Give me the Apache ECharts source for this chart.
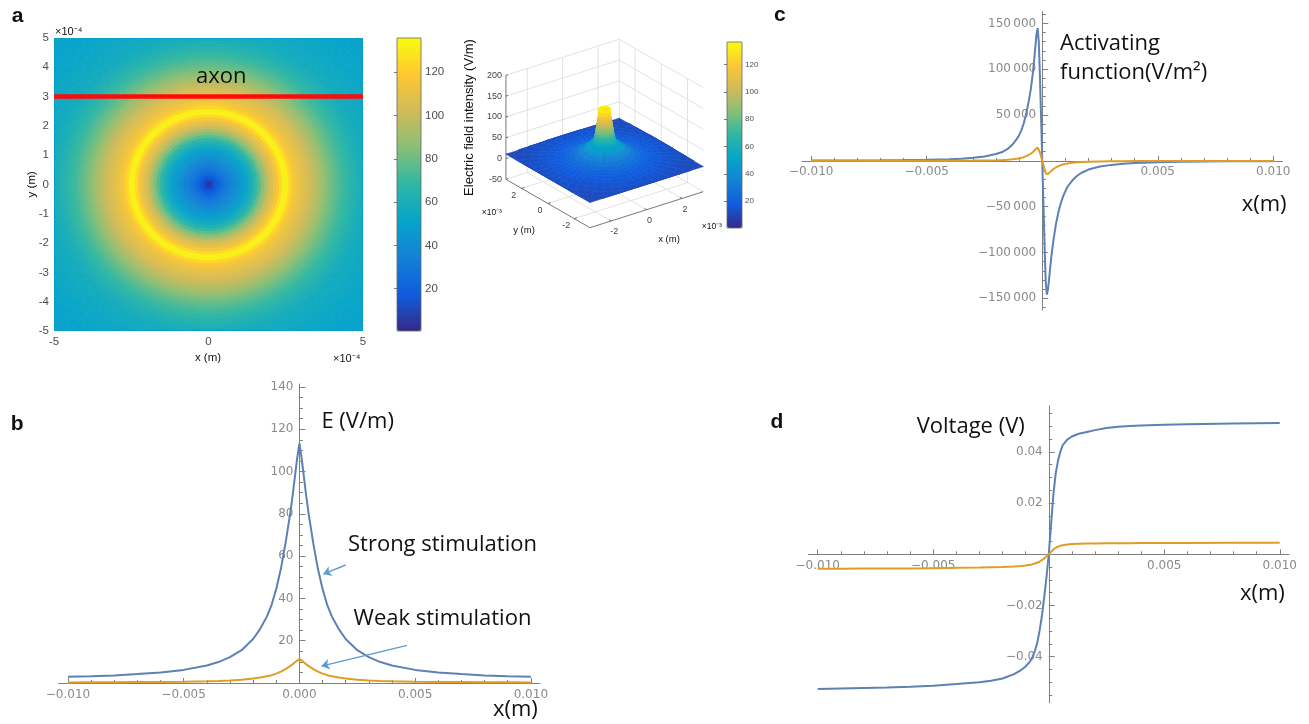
<!DOCTYPE html>
<html>
<head>
<meta charset="utf-8">
<script src="https://cdn.jsdelivr.net/npm/echarts@6/dist/echarts.min.js"></script>
<style>
html, body { margin: 0; padding: 0; background: #fff; }
#main { width: 1309px; height: 724px; }
</style>
</head>
<body>
<div id="main"></div>
<script>
/* ---------------- colour map (parula-like) ---------------- */
const parula = ['#352a87', '#0f5cdd', '#1481d6', '#06a4ca', '#2eb7a4', '#87bf77', '#d1bb59', '#fec832', '#f9fb0e'];

/* ---------------- panel a : radial field profile ---------------- */
// radius in 1e-4 m, field in V/m
const mapRadius = [0, 0.1, 0.2, 0.3, 0.4, 0.5, 0.6, 0.7, 0.8, 0.9, 1, 1.1, 1.2, 1.3, 1.4, 1.5, 1.6, 1.7, 1.8, 1.9,
  2, 2.1, 2.2, 2.3, 2.4, 2.5, 2.6, 2.7, 2.8, 2.9, 3, 3.1, 3.2, 3.3, 3.4, 3.5, 3.6, 3.7, 3.8, 3.9,
  4, 4.1, 4.2, 4.3, 4.4, 4.5, 4.6, 4.7, 4.8, 4.9, 5, 5.1, 5.2, 5.3, 5.4, 5.5, 5.6, 5.7, 5.8, 5.9,
  6, 6.1, 6.2, 6.3, 6.4, 6.5, 6.6, 6.7, 6.8, 6.9, 7, 7.1, 7.2];
const mapField = [3, 9, 15, 20, 24, 28, 31, 34, 37, 40, 44, 47, 50, 54, 59, 65, 72, 80, 88, 96,
  103, 108, 113, 120, 130, 135, 128, 120, 115, 112, 110, 107, 105, 102, 99, 96, 93, 90, 86, 83,
  80, 77, 75, 72, 70, 68, 66, 64, 62, 60, 58.5, 57.5, 56.5, 56, 55.5, 55, 54.5, 54, 53.5, 53,
  52.7, 52.4, 52.1, 51.8, 51.5, 51.2, 51, 50.7, 50.5, 50.3, 50, 49.8, 49.6];
// far field, only seen in the 3D surface
const farRadius = [8, 9, 10, 12, 14, 16, 18, 20, 23, 26, 30, 34, 38, 42, 45.3];
const farField = [46, 42, 38, 32, 27, 23.5, 21, 19, 17, 15.5, 14, 12.5, 11.5, 11, 10.5];

const axonX = [-5, 5];
const axonY = [3, 3];
const mapHalf = 5;             // map spans -5..5 (x1e-4 m)
const mapAngles = 120;
const surfHalf = 32;           // 3D surface spans -32..32 (x1e-4 m)
const surfAngles = 48;
const cbTicks = [20, 40, 60, 80, 100, 120];
const tick3dXY = [-2, 0, 2];   // x1e-3 m
const tick3dZ = [-50, 0, 50, 100, 150, 200];

/* ---------------- panel b : E along the axon ---------------- */
const bX = [-0.010, -0.009, -0.008, -0.007, -0.006, -0.005, -0.004, -0.0035, -0.003, -0.0025, -0.002, -0.0017, -0.0014, -0.0012, -0.001, -0.0008, -0.0006, -0.0004, -0.0003, -0.0002, -0.0001,
  0, 0.0001, 0.0002, 0.0003, 0.0004, 0.0006, 0.0008, 0.001, 0.0012, 0.0014, 0.0017, 0.002, 0.0025, 0.003, 0.0035, 0.004, 0.005, 0.006, 0.007, 0.008, 0.009, 0.010];
const bStrong = [2.9, 3.2, 3.6, 4.2, 5.0, 6.2, 8.3, 9.9, 12.2, 15.5, 20.8, 25.5, 31.5, 37, 44.5, 54, 66, 80, 88, 97, 106,
  113.3, 106, 97, 88, 80, 66, 54, 44.5, 37, 31.5, 25.5, 20.8, 15.5, 12.2, 9.9, 8.3, 6.2, 5.0, 4.2, 3.6, 3.2, 2.9];
const bWeak = [0.29, 0.32, 0.36, 0.42, 0.5, 0.62, 0.83, 0.99, 1.22, 1.55, 2.08, 2.55, 3.15, 3.7, 4.45, 5.4, 6.6, 8.0, 8.8, 9.7, 10.6,
  11.3, 10.6, 9.7, 8.8, 8.0, 6.6, 5.4, 4.45, 3.7, 3.15, 2.55, 2.08, 1.55, 1.22, 0.99, 0.83, 0.62, 0.5, 0.42, 0.36, 0.32, 0.29];
const arrowStrong = [[0.0020, 55.8], [0.00103, 51.5]];
const arrowWeak = [[0.00465, 17.8], [0.00095, 8.0]];

/* ---------------- panel c : activating function ---------------- */
const cX = [-0.010, -0.009, -0.008, -0.007, -0.006, -0.005, -0.004, -0.0035, -0.003, -0.0025, -0.002, -0.0017, -0.0015, -0.0013, -0.0011, -0.001, -0.0009, -0.0008, -0.0007, -0.0006, -0.0005, -0.0004, -0.00035, -0.0003, -0.00025, -0.0002, -0.00015, -0.0001, -0.00005,
  0, 0.00005, 0.0001, 0.00015, 0.0002, 0.00025, 0.0003, 0.00035, 0.0004, 0.0005, 0.0006, 0.0007, 0.0008, 0.0009, 0.001, 0.0011, 0.0013, 0.0015, 0.0017, 0.002, 0.0025, 0.003, 0.0035, 0.004, 0.005, 0.006, 0.007, 0.008, 0.009, 0.010];
const cStrong = [300, 380, 450, 560, 800, 1150, 1800, 2400, 3300, 4800, 7400, 10000, 13000, 17500, 24000, 28000, 33500, 41000, 51000, 63000, 77500, 97000, 110000, 124000, 138000, 145000, 130000, 92000, 47000,
  0, -47000, -92000, -132000, -146000, -140000, -128000, -115000, -103000, -84000, -68000, -56000, -46500, -39000, -33000, -28000, -21500, -16500, -13000, -9500, -6200, -4400, -3200, -2400, -1500, -1000, -700, -520, -420, -340];
const cWeak = [30, 38, 45, 56, 80, 115, 180, 240, 330, 480, 740, 1000, 1300, 1750, 2400, 2800, 3350, 4100, 5100, 6300, 7750, 9700, 11000, 12400, 13800, 14500, 13000, 9200, 4700,
  0, -4700, -9200, -13500, -15200, -14500, -13200, -11800, -10500, -8600, -7000, -5700, -4700, -3900, -3300, -2800, -2150, -1650, -1300, -950, -620, -440, -320, -240, -150, -100, -70, -52, -42, -34];

/* ---------------- panel d : voltage ---------------- */
const dX = [-0.010, -0.009, -0.008, -0.007, -0.006, -0.005, -0.004, -0.003, -0.0025, -0.002, -0.0015, -0.0012, -0.001, -0.0008, -0.0007, -0.0006, -0.0005, -0.0004, -0.0003, -0.0002, -0.0001,
  0, 0.0001, 0.00017, 0.0002, 0.0003, 0.0004, 0.0005, 0.0006, 0.0008, 0.001, 0.0013, 0.0017, 0.002, 0.0025, 0.003, 0.0035, 0.004, 0.005, 0.006, 0.008, 0.010];
const dStrong = [-0.0526, -0.0524, -0.0522, -0.0520, -0.0517, -0.0513, -0.0507, -0.0500, -0.0494, -0.0485, -0.0468, -0.0452, -0.0438, -0.0417, -0.0400, -0.0378, -0.0347, -0.0300, -0.0243, -0.0170, -0.0090,
  0, 0.0115, 0.0200, 0.0232, 0.0315, 0.0365, 0.0400, 0.0425, 0.0448, 0.0460, 0.0471, 0.0479, 0.0485, 0.0493, 0.0498, 0.0501, 0.0503, 0.0506, 0.0508, 0.0511, 0.0513];
const dWeak = [-0.0056, -0.0056, -0.0055, -0.0055, -0.0055, -0.0054, -0.0053, -0.0052, -0.0051, -0.0050, -0.0048, -0.0046, -0.0044, -0.0041, -0.0039, -0.0036, -0.0033, -0.0029, -0.0023, -0.0016, -0.0008,
  0, 0.0010, 0.0016, 0.0019, 0.0025, 0.0030, 0.0033, 0.0035, 0.0038, 0.0040, 0.0041, 0.0042, 0.0042, 0.0043, 0.0043, 0.0043, 0.0044, 0.0044, 0.0044, 0.0045, 0.0045];

/* ---------------- tick positions ---------------- */
const xLabels = [-0.01, -0.005, 0.005, 0.01];
const xMajor = [-0.01, -0.005, 0, 0.005, 0.01];
const xMinor = [];
for (let i = -10; i <= 10; i++) if (i % 5 !== 0) xMinor.push(i / 1000);
const bYLabels = [20, 40, 60, 80, 100, 120, 140];
const bYMinor = [];
for (let i = 1; i <= 28; i++) if (i % 4 !== 0) bYMinor.push(i * 5);
const cYLabels = [-150000, -100000, -50000, 50000, 100000, 150000];
const cYMinor = [];
for (let i = -16; i <= 16; i++) if (i % 5 !== 0) cYMinor.push(i * 10000);
const dYLabels = [-0.04, -0.02, 0.02, 0.04];
const dYMinor = [];
for (let i = -11; i <= 11; i++) if (i % 4 !== 0) dYMinor.push(i * 5 / 1000);

/* ---------------- helpers ---------------- */
const blue = '#5e81b5';
const orange = '#e19c24';
const axisGrey = '#808080';
const tickFont = { color: '#8a8a8a', fontFamily: 'DejaVu Sans', fontSize: 12 };
const matFont = { color: '#4d4d4d', fontFamily: 'Liberation Sans', fontSize: 11.5 };

const pairs = (xs, ys) => xs.map((x, i) => [x, ys[i]]);
const minus = v => (v < 0 ? '\u2212' : '');
const fmtFixed = d => v => minus(v) + Math.abs(v).toFixed(d);
const fmtThousands = v => minus(v) + String(Math.abs(v)).replace(/\B(?=(\d{3})+(?!\d))/g, '\u2009');

// polar mesh on the profile rings, clipped to a square of half-width `half`
function ringVertex(radius, k, a, nAng, half) {
  const th = a * 2 * Math.PI / nAng;
  const c = Math.cos(th), s = Math.sin(th);
  const r = Math.min(radius[k], half / Math.max(Math.abs(c), Math.abs(s)));
  return [r * c, r * s];
}

// 3D view: normalised x,y in -1..1, z in V/m -> local coords of the hidden grid
const view3d = { cx: 134.6, cy: 144.7, ex: [56.65, -18.0], ey: [-42.0, -24.2], ez: -0.416 };
function proj(x, y, z) {
  return [view3d.cx + x * view3d.ex[0] + y * view3d.ey[0],
          view3d.cy + x * view3d.ex[1] + y * view3d.ey[1] + z * view3d.ez];
}

/* ---------------- build the 2D map ---------------- */
const mapCells = [];
for (let k = 0; k < mapRadius.length - 1; k++) {
  for (let a = 0; a < mapAngles; a++) {
    const p1 = ringVertex(mapRadius, k, a, mapAngles, mapHalf), p2 = ringVertex(mapRadius, k, a + 1, mapAngles, mapHalf);
    const p3 = ringVertex(mapRadius, k + 1, a + 1, mapAngles, mapHalf), p4 = ringVertex(mapRadius, k + 1, a, mapAngles, mapHalf);
    mapCells.push(p1.concat(p2, p3, p4, [(mapField[k] + mapField[k + 1]) / 2]));
  }
}
function cellRenderer(params, api) {
  const pts = [];
  for (let v = 0; v < 4; v++) pts.push(api.coord([api.value(v * 2), api.value(v * 2 + 1)]));
  const col = api.visual('color');
  return { type: 'polygon', shape: { points: pts }, style: { fill: col, stroke: col, lineWidth: 0.7 } };
}

/* ---------------- build the 3D surface ---------------- */
const ringR = mapRadius.concat(farRadius);
const ringF = mapField.concat(farField);
function vert(k, a) {
  const p = ringVertex(ringR, k, a, surfAngles, surfHalf);
  return [p[0] / surfHalf, p[1] / surfHalf, ringF[k]];
}
const surfQuads = [];
for (let k = 0; k < ringR.length - 1; k++) {
  for (let a = 0; a < surfAngles; a++) {
    const p1 = vert(k, a), p2 = vert(k, a + 1), p3 = vert(k + 1, a + 1), p4 = vert(k + 1, a);
    const xc = (p1[0] + p2[0] + p3[0] + p4[0]) / 4, yc = (p1[1] + p2[1] + p3[1] + p4[1]) / 4;
    surfQuads.push({ depth: 0.609 * xc + 0.793 * yc, value: p1.concat(p2, p3, p4, [(ringF[k] + ringF[k + 1]) / 2]) });
  }
}
surfQuads.sort((p, q) => q.depth - p.depth);

/* ---------------- 3D box: grid lines, axes, labels ---------------- */
const gridSegs = [];
tick3dXY.forEach(t => {
  const n = t / 3.2;
  gridSegs.push([n, 1, -50, n, 1, 200]);
  gridSegs.push([1, n, -50, 1, n, 200]);
  gridSegs.push([n, -1, -50, n, 1, -50]);
  gridSegs.push([-1, n, -50, 1, n, -50]);
});
tick3dZ.forEach(z => {
  gridSegs.push([-1, 1, z, 1, 1, z]);
  gridSegs.push([1, -1, z, 1, 1, z]);
});
gridSegs.push([1, 1, -50, 1, 1, 200]);

const axisSegs = [[-1, 1, -50, -1, 1, 200], [-1, -1, -50, 1, -1, -50], [-1, -1, -50, -1, 1, -50]];
tick3dZ.forEach(z => axisSegs.push([-1, 1, z, -0.96, 1, z]));
tick3dXY.forEach(t => {
  axisSegs.push([t / 3.2, -1, -50, t / 3.2, -0.95, -50]);
  axisSegs.push([-1, t / 3.2, -50, -0.95, t / 3.2, -50]);
});

const labels3d = [];
tick3dZ.forEach(z => labels3d.push({ p: [-1, 1, z], text: String(z), dx: -4, dy: 0, align: 'right' }));
tick3dXY.forEach(t => labels3d.push({ p: [-1, t / 3.2, -50], text: String(t), dx: -8, dy: 7, align: 'center' }));
tick3dXY.forEach(t => labels3d.push({ p: [t / 3.2, -1, -50], text: String(t), dx: 3, dy: 11, align: 'center' }));

function segRenderer(color, width) {
  return function (params, api) {
    const a = api.coord(proj(api.value(0), api.value(1), api.value(2)));
    const b = api.coord(proj(api.value(3), api.value(4), api.value(5)));
    return { type: 'line', shape: { x1: a[0], y1: a[1], x2: b[0], y2: b[1] }, style: { stroke: color, lineWidth: width } };
  };
}
function quadRenderer(params, api) {
  const pts = [];
  for (let v = 0; v < 4; v++) pts.push(api.coord(proj(api.value(v * 3), api.value(v * 3 + 1), api.value(v * 3 + 2))));
  const col = api.visual('color');
  return { type: 'polygon', shape: { points: pts }, style: { fill: col, stroke: col, lineWidth: 0.6 } };
}
function labelRenderer(params, api) {
  const l = labels3d[params.dataIndex];
  const c = api.coord(proj(l.p[0], l.p[1], l.p[2]));
  return { type: 'text', x: c[0] + l.dx, y: c[1] + l.dy,
    style: { text: l.text, fill: '#444', font: '9px "Liberation Sans"', align: l.align, verticalAlign: 'middle', textAlign: l.align, textVerticalAlign: 'middle' } };
}

/* ---------------- axes factories ---------------- */
// Mathematica-style axes crossing at the origin: placed with a (negative) offset
function hiddenAxis(grid, min, max, inverse) {
  return { type: 'value', gridIndex: grid, min: min, max: max, inverse: !!inverse, show: false };
}
function mathX(grid, lim, labels, fmt, margin, offset) {
  return { type: 'value', gridIndex: grid, min: -lim, max: lim, position: 'bottom', offset: offset,
    axisLine: { show: true, onZero: false, lineStyle: { color: axisGrey, width: 1 } },
    axisTick: { show: true, inside: true, length: 5, customValues: xMajor, lineStyle: { color: axisGrey } },
    axisLabel: Object.assign({ show: true, customValues: labels, formatter: fmt, margin: margin }, tickFont),
    splitLine: { show: false } };
}
function minorX(grid, lim, offset) {
  return { type: 'value', gridIndex: grid, min: -lim, max: lim, position: 'bottom', offset: offset,
    axisLine: { show: false, onZero: false },
    axisTick: { show: true, inside: true, length: 3, customValues: xMinor, lineStyle: { color: axisGrey } },
    axisLabel: { show: false }, splitLine: { show: false } };
}
function mathY(grid, min, max, labels, ticks, fmt, offset) {
  return { type: 'value', gridIndex: grid, min: min, max: max, position: 'left', offset: offset,
    axisLine: { show: true, onZero: false, lineStyle: { color: axisGrey, width: 1 } },
    axisTick: { show: true, inside: true, length: 6, customValues: ticks, lineStyle: { color: axisGrey } },
    axisLabel: Object.assign({ show: true, customValues: labels, formatter: fmt, margin: 6 }, tickFont),
    splitLine: { show: false } };
}
function minorY(grid, min, max, ticks, offset) {
  return { type: 'value', gridIndex: grid, min: min, max: max, position: 'left', offset: offset,
    axisLine: { show: false, onZero: false },
    axisTick: { show: true, inside: true, length: 3.5, customValues: ticks, lineStyle: { color: axisGrey } },
    axisLabel: { show: false }, splitLine: { show: false } };
}
function colorbarAxis(grid, min, max, fontSize, margin) {
  return { type: 'value', gridIndex: grid, min: min, max: max, position: 'right',
    axisLine: { show: false },
    axisTick: { show: true, inside: true, length: 3, customValues: cbTicks, lineStyle: { color: '#555', width: 0.8 } },
    axisLabel: { show: true, customValues: cbTicks, margin: margin, color: '#4d4d4d', fontFamily: 'Liberation Sans', fontSize: fontSize },
    splitLine: { show: false } };
}
function curve(axisIdx, xs, ys, color, extra) {
  return Object.assign({ type: 'line', xAxisIndex: axisIdx, yAxisIndex: axisIdx, data: pairs(xs, ys), symbol: 'none', showSymbol: false,
    clip: false, silent: true, lineStyle: { color: color, width: 2 }, itemStyle: { color: color }, z: 3 }, extra || {});
}
function txt(text, x, y, font, align, extra) {
  const al = align || 'left';
  return Object.assign({ type: 'text', x: x, y: y, z: 100, silent: true,
    style: { text: text, font: font, fill: '#111', align: al, verticalAlign: 'middle', textAlign: al, textVerticalAlign: 'middle' } }, extra || {});
}

const annoFont = '22px "Open Sans"';
const panelFont = 'bold 21px "Liberation Sans"';
const matLabel = '11.5px "Liberation Sans"';
const smallLabel = '9.5px "Liberation Sans"';

// plot rectangles of the three line panels
const rectB = { left: 58.7, top: 384, width: 481.4, height: 299 };
const rectC = { left: 802, top: 11.7, width: 480.5, height: 298.3 };
const rectD = { left: 808.5, top: 405.8, width: 480.5, height: 297 };
const limX = 0.0104;
const limB = [0, 141.4], limC = [-162750, 162750], limD = [-0.058, 0.058];
// distance from the grid edge to the zero line of the other axis
const zeroOff = (rect, lim, vert) => vert
  ? -(rect.height * (lim[1] / (lim[1] - lim[0])))
  : -(rect.width * (limX / (2 * limX)));

const option = {
  backgroundColor: '#ffffff',
  animation: false,
  grid: [
    { left: 54, top: 38, width: 309, height: 293, outerBoundsMode: 'none' },      // 0 map
    { left: 397, top: 38, width: 24, height: 293, outerBoundsMode: 'none' },      // 1 map colorbar
    { left: 470, top: 20, width: 260, height: 220, outerBoundsMode: 'none' },     // 2 3D view
    { left: 727, top: 42, width: 15, height: 186, outerBoundsMode: 'none' },      // 3 3D colorbar
    Object.assign({ outerBoundsMode: 'none' }, rectB),                            // 4 panel b
    Object.assign({ outerBoundsMode: 'none' }, rectC),                            // 5 panel c
    Object.assign({ outerBoundsMode: 'none' }, rectD)                             // 6 panel d
  ],
  xAxis: [
    { type: 'value', gridIndex: 0, min: -5, max: 5, interval: 5, position: 'bottom',
      axisLine: { show: false }, axisTick: { show: false }, splitLine: { show: false },
      axisLabel: Object.assign({ margin: 5 }, matFont) },
    hiddenAxis(1, 0, 1),
    hiddenAxis(2, 0, 260),
    hiddenAxis(3, 0, 1),
    mathX(4, limX, xMajor, fmtFixed(3), 6, 0),
    minorX(4, limX, 0),
    mathX(5, limX, xLabels, fmtFixed(3), 5, zeroOff(rectC, limC, true)),
    minorX(5, limX, zeroOff(rectC, limC, true)),
    mathX(6, limX, xLabels, fmtFixed(3), 6, zeroOff(rectD, limD, true)),
    minorX(6, limX, zeroOff(rectD, limD, true))
  ],
  yAxis: [
    { type: 'value', gridIndex: 0, min: -5, max: 5, interval: 1, position: 'left',
      axisLine: { show: false }, axisTick: { show: false }, splitLine: { show: false },
      axisLabel: Object.assign({ margin: 5 }, matFont) },
    colorbarAxis(1, 0.47, 135.8, 11.5, 4),
    hiddenAxis(2, 0, 220, true),
    colorbarAxis(3, 0.3, 136.5, 8, 3),
    mathY(4, limB[0], limB[1], bYLabels, [0].concat(bYLabels), v => String(v), zeroOff(rectB, limB, false)),
    minorY(4, limB[0], limB[1], bYMinor, zeroOff(rectB, limB, false)),
    mathY(5, limC[0], limC[1], cYLabels, cYLabels, fmtThousands, zeroOff(rectC, limC, false)),
    minorY(5, limC[0], limC[1], cYMinor, zeroOff(rectC, limC, false)),
    mathY(6, limD[0], limD[1], dYLabels, dYLabels, fmtFixed(2), zeroOff(rectD, limD, false)),
    minorY(6, limD[0], limD[1], dYMinor, zeroOff(rectD, limD, false))
  ],
  visualMap: [
    { type: 'continuous', seriesIndex: 0, dimension: 8, min: 0.47, max: 135.8, calculable: false, show: true,
      left: 397, top: 38, itemWidth: 24, itemHeight: 293, padding: 0, text: null, inRange: { color: parula } },
    { type: 'continuous', seriesIndex: 3, dimension: 12, min: 0.3, max: 136.5, calculable: false, show: true,
      left: 727, top: 42, itemWidth: 15, itemHeight: 186, padding: 0, text: null, inRange: { color: parula } }
  ],
  series: [
    { type: 'custom', xAxisIndex: 0, yAxisIndex: 0, data: mapCells, renderItem: cellRenderer, silent: true, progressive: 0, clip: true, z: 1 },
    { type: 'line', xAxisIndex: 0, yAxisIndex: 0, data: pairs(axonX, axonY), symbol: 'none', silent: true,
      lineStyle: { color: '#ff0a0a', width: 4.5 }, z: 5 },
    { type: 'custom', xAxisIndex: 2, yAxisIndex: 2, data: gridSegs, renderItem: segRenderer('#dadada', 0.8), silent: true, z: 1 },
    { type: 'custom', xAxisIndex: 2, yAxisIndex: 2, data: surfQuads.map(q => q.value), renderItem: quadRenderer,
      silent: true, progressive: 0, z: 2 },
    { type: 'custom', xAxisIndex: 2, yAxisIndex: 2, data: axisSegs, renderItem: segRenderer('#555555', 0.8), silent: true, z: 3 },
    { type: 'custom', xAxisIndex: 2, yAxisIndex: 2, data: labels3d.map(l => l.p), renderItem: labelRenderer, silent: true, z: 3 },
    curve(4, bX, bStrong, blue, {
      markLine: { silent: true, symbol: ['none', 'arrow'], symbolSize: 8, label: { show: false },
        lineStyle: { color: '#5b9bd5', width: 1.4, type: 'solid' },
        data: [[{ coord: arrowStrong[0] }, { coord: arrowStrong[1] }], [{ coord: arrowWeak[0] }, { coord: arrowWeak[1] }]] }
    }),
    curve(4, bX, bWeak, orange),
    curve(6, cX, cStrong, blue),
    curve(6, cX, cWeak, orange),
    curve(8, dX, dStrong, blue),
    curve(8, dX, dWeak, orange)
  ],
  graphic: [
    txt('a', 11.7, 16, panelFont),
    txt('b', 10.7, 424.3, panelFont),
    txt('c', 774, 15.7, panelFont),
    txt('d', 770.5, 422.6, panelFont),
    // panel a
    txt('axon', 221.3, 77, annoFont, 'center'),
    txt('y (m)', 31.7, 184.3, matLabel, 'center', { rotation: Math.PI / 2 }),
    txt('x (m)', 208, 358.3, matLabel, 'center'),
    txt('\u00d710\u207b\u2074', 55, 31.7, '11px "Liberation Sans"'),
    txt('\u00d710\u207b\u2074', 333, 359.3, '11px "Liberation Sans"'),
    { type: 'rect', z: 100, silent: true, shape: { x: 397, y: 38, width: 24, height: 293 }, style: { fill: 'none', stroke: '#666', lineWidth: 0.8 } },
    txt('Electric field intensity (V/m)', 469, 117.5, '13px "Liberation Sans"', 'center', { rotation: Math.PI / 2 }),
    txt('y (m)', 524, 230, smallLabel, 'center'),
    txt('x (m)', 669, 239.3, smallLabel, 'center'),
    txt('\u00d710\u207b\u00b3', 481.7, 212.7, '8.5px "Liberation Sans"'),
    txt('\u00d710\u207b\u00b3', 701.7, 226.7, '8.5px "Liberation Sans"'),
    { type: 'rect', z: 100, silent: true, shape: { x: 727, y: 42, width: 15, height: 186 }, style: { fill: 'none', stroke: '#666', lineWidth: 0.8 } },
    // panel b
    txt('E (V/m)', 321.4, 421.7, annoFont),
    txt('Strong stimulation', 348, 545, annoFont),
    txt('Weak stimulation', 353.6, 618.3, annoFont),
    txt('x(m)', 493, 710, annoFont),
    // panel c
    txt('Activating', 1060, 43.9, annoFont),
    txt('function(V/m\u00b2)', 1060, 73.2, annoFont),
    txt('x(m)', 1241.7, 205, annoFont),
    // panel d
    txt('Voltage (V)', 916.7, 426.4, annoFont),
    txt('x(m)', 1240, 593.3, annoFont)
  ]
};

const chart = echarts.init(document.getElementById('main'));
chart.setOption(option);
</script>
</body>
</html>
